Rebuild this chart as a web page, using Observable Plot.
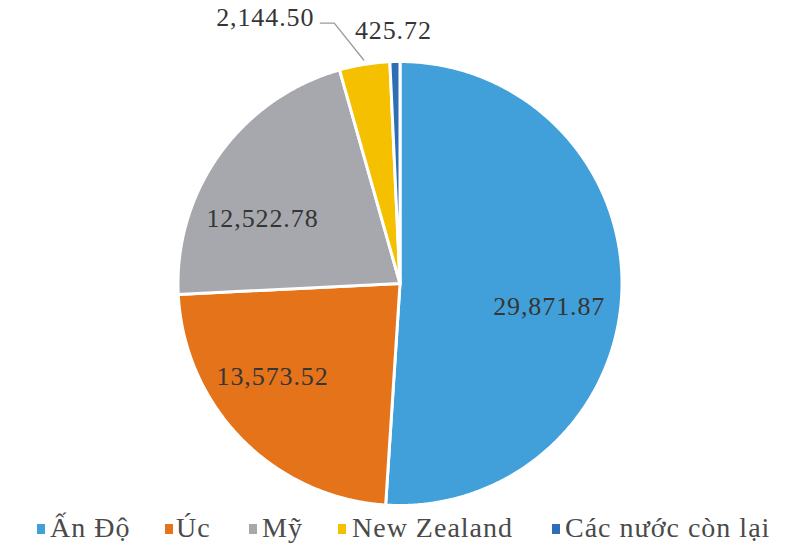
<!DOCTYPE html>
<html>
<head>
<meta charset="utf-8">
<script src="https://cdn.jsdelivr.net/npm/d3@7"></script>
<script src="https://cdn.jsdelivr.net/npm/@observablehq/plot@0.6"></script>
<style>
  html, body { margin: 0; padding: 0; background: #fff; }
  #chart { width: 785px; height: 505px; }
  #chart svg text { letter-spacing: 0.9px; }
  #legend {
    position: relative; width: 785px; height: 43px;
    font-family: "Liberation Serif", "Times New Roman", serif; font-size: 28px;
    color: #4a4a4a; letter-spacing: 1px;
  }
  #legend .sw { position: absolute; top: 19px; width: 8px; height: 10px; }
  #legend .tx { position: absolute; top: 9px; line-height: 28px; white-space: nowrap; }
</style>
</head>
<body>
<div id="chart"></div>
<div id="legend"></div>
<script>
const categories = ["Ấn Độ", "Úc", "Mỹ", "New Zealand", "Các nước còn lại"];
const values = [29871.87, 13573.52, 12522.78, 2144.50, 425.72];
const colors = ["#41a0d9", "#e5731a", "#a6a8ad", "#f5c000", "#2f6db5"];

// label placement (relative to each slice's mid-angle): angle shift in degrees, radius fraction
const labelShift = [6.9, 8.5, -10.4, -17.7, -0.2];
const labelRadius = [0.68, 0.71, 0.685, 1.341, 1.14];
// legend layout (pixel offsets of swatch and text)
const legendSwatchX = [37, 165, 249, 338, 552];
const legendTextX = [50, 176, 262, 352, 565];

const R = 222;
const fmt = d3.format(",.2f");
const arcs = d3.pie().sort(null).value(d => d)(values);
const polar = (a, r) => ({x: r * Math.sin(a), y: r * Math.cos(a)});

const slices = arcs.map((a, i) => {
  const pts = [{x: 0, y: 0}];
  const n = Math.max(2, Math.ceil((a.endAngle - a.startAngle) / (Math.PI / 360)));
  for (let k = 0; k <= n; k++) {
    pts.push(polar(a.startAngle + (a.endAngle - a.startAngle) * k / n, R));
  }
  return pts;
});

const labelData = arcs.map((a, i) => {
  const mid = (a.startAngle + a.endAngle) / 2 + labelShift[i] * Math.PI / 180;
  const p = polar(mid, labelRadius[i] * R);
  return {...p, text: fmt(values[i])};
});

// leader line for New Zealand label
const nz = arcs[3];
const nzMid = (nz.startAngle + nz.endAngle) / 2;
const anchor = polar(nzMid, R * 1.02);
const lab = labelData[3];
const leader = [
  anchor,
  {x: lab.x + 69, y: lab.y - 5},
  {x: lab.x + 55, y: lab.y - 5}
];

const marks = slices.map((pts, i) =>
  Plot.line(pts, {x: "x", y: "y", fill: colors[i], stroke: "white", strokeWidth: 3,
                  strokeLinejoin: "round", curve: "linear-closed"})
);
marks.push(Plot.line(leader, {x: "x", y: "y", stroke: "#9a9a9a", strokeWidth: 1.3}));
marks.push(Plot.text(labelData, {x: "x", y: "y", text: "text", fontSize: 26,
  fill: "#353535", textAnchor: "middle", lineAnchor: "middle"}));

const chart = Plot.plot({
  width: 785,
  height: 505,
  margin: 0,
  x: {domain: [-399.5, 385.5], axis: null},
  y: {domain: [-222, 283], axis: null},
  style: {fontFamily: "'Liberation Serif', 'Times New Roman', serif", background: "white"},
  marks
});
document.getElementById("chart").append(chart);

const legend = document.getElementById("legend");
categories.forEach((c, i) => {
  const sw = document.createElement("span");
  sw.className = "sw";
  sw.style.background = colors[i];
  sw.style.left = legendSwatchX[i] + "px";
  const t = document.createElement("span");
  t.className = "tx";
  t.style.left = legendTextX[i] + "px";
  t.textContent = c;
  legend.append(sw, t);
});
</script>
</body>
</html>
